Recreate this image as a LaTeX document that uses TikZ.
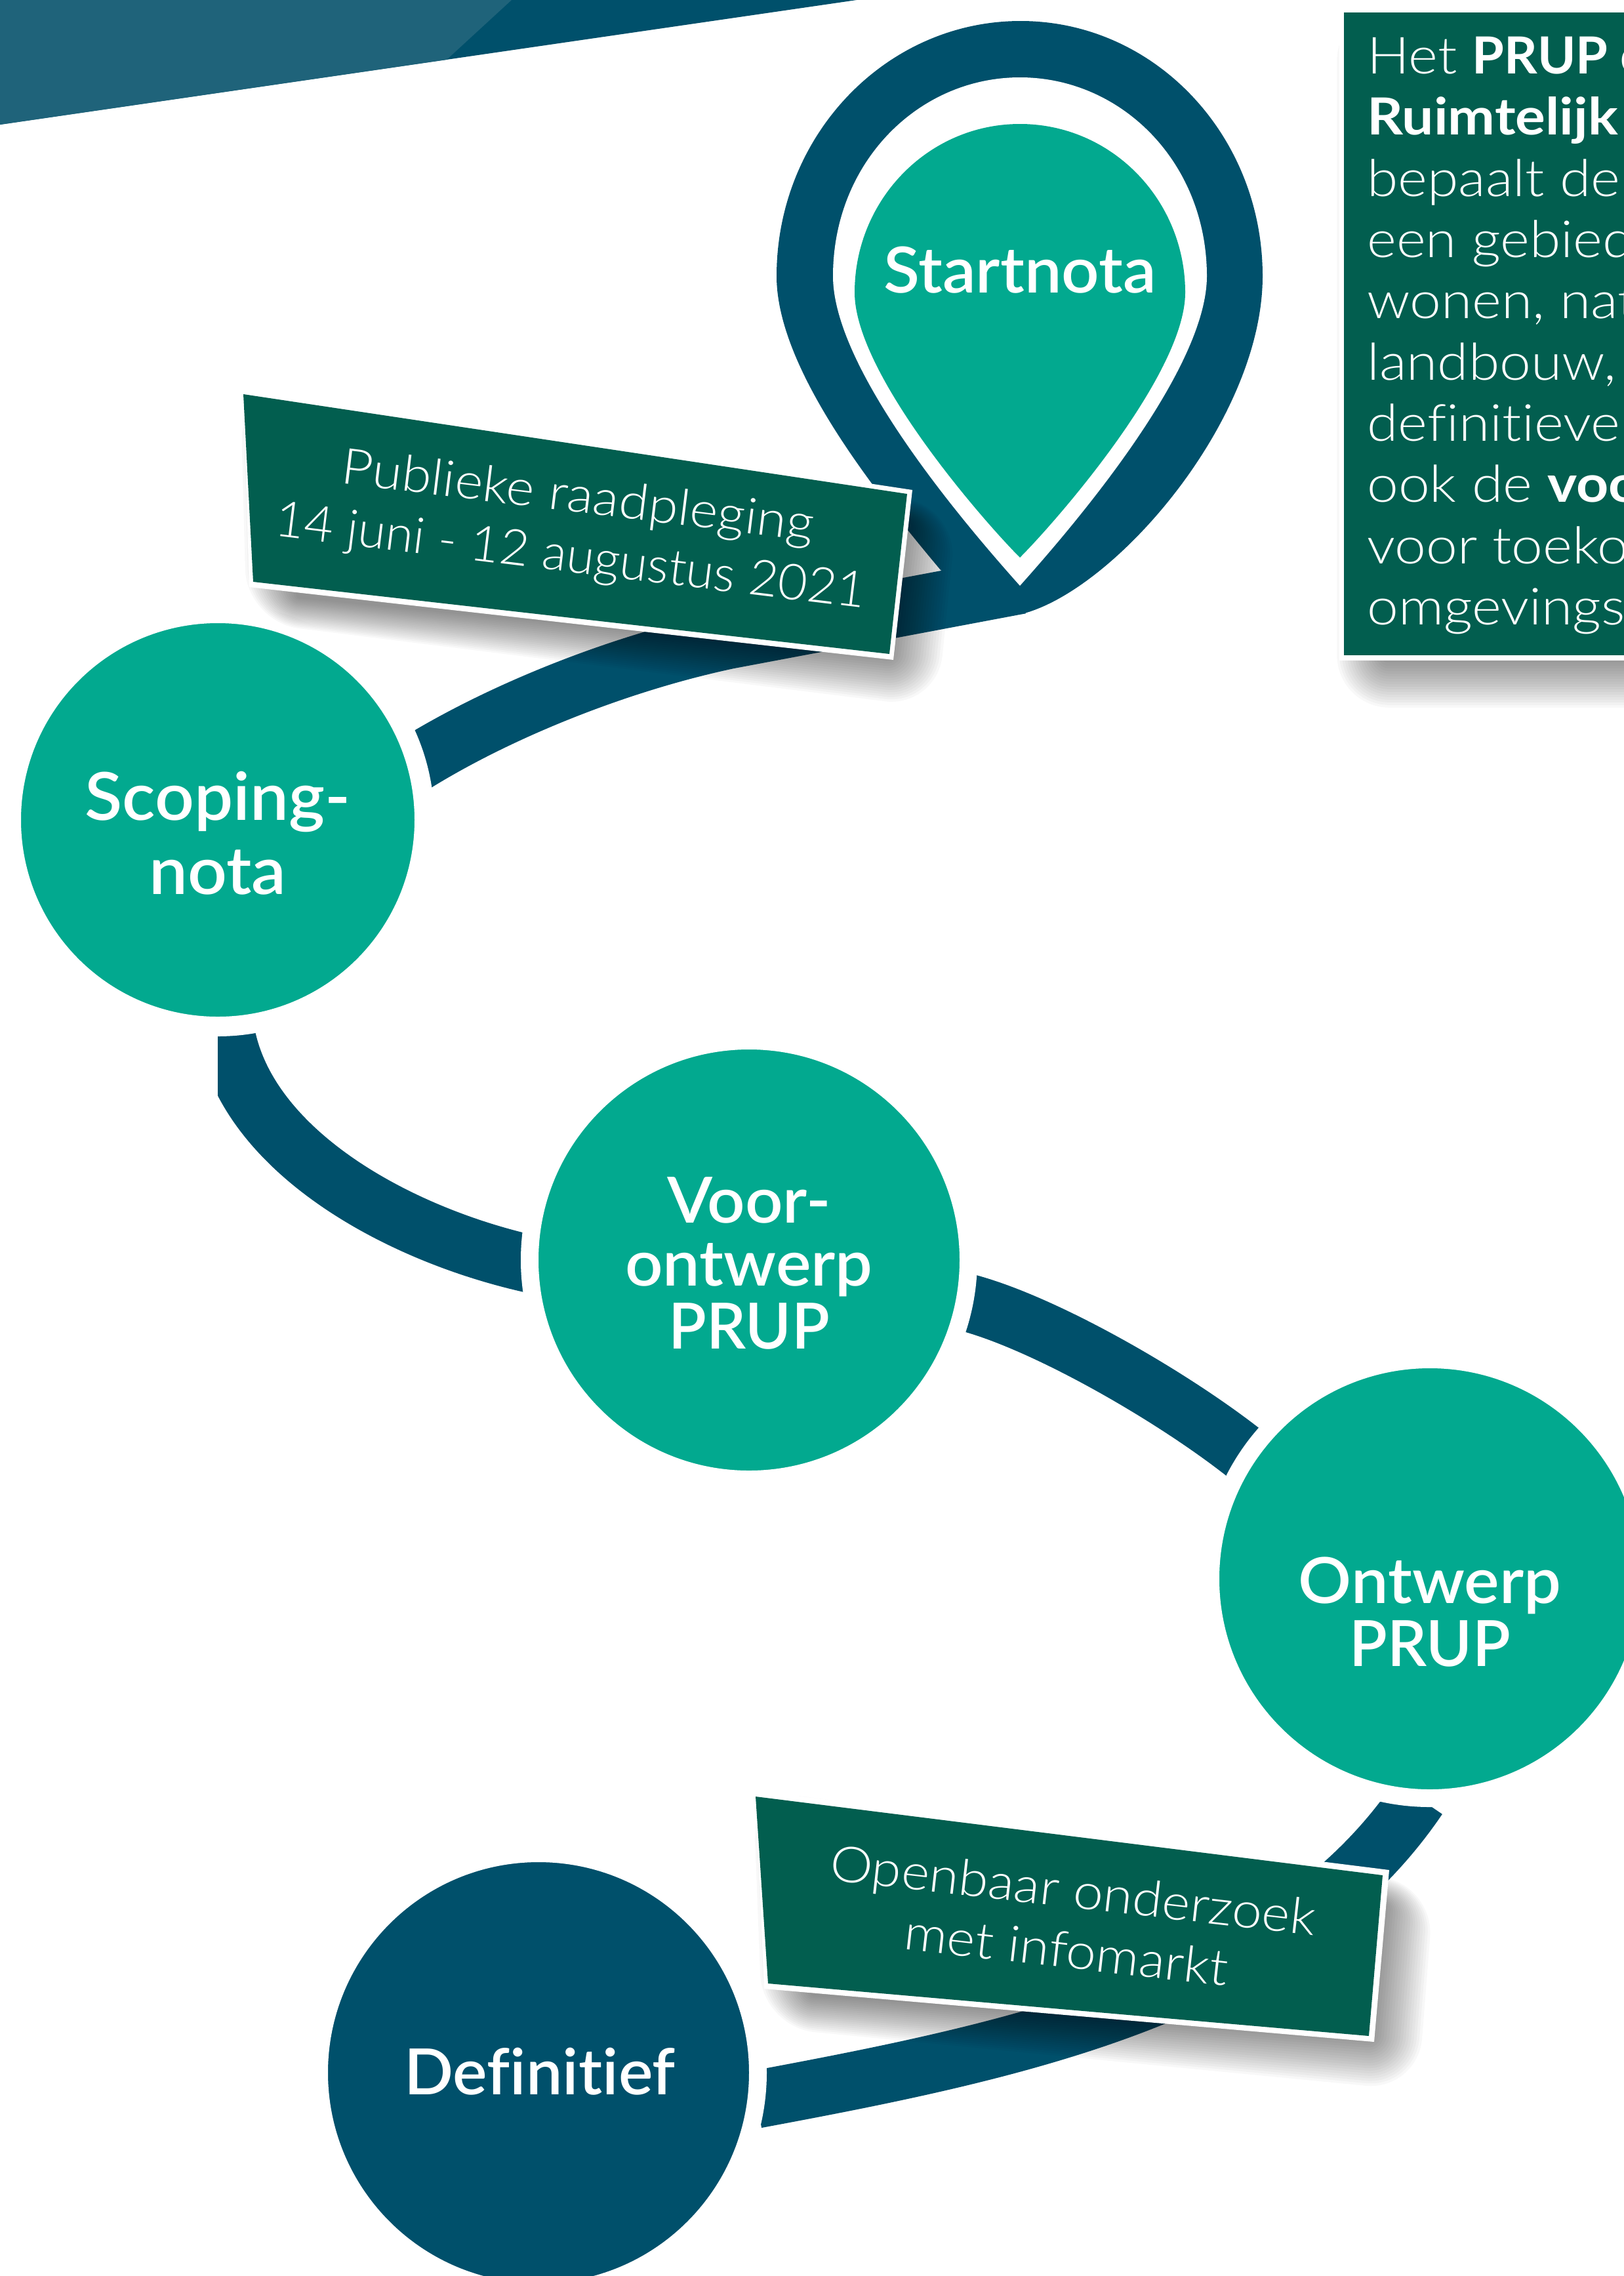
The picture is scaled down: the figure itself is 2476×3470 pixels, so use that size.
\documentclass[tikz,border=0pt]{standalone}
\usepackage{fontspec}
\setmainfont{Lato}
\newfontfamily\tagface[FakeStretch=1.08,Ligatures=CommonOff]{Lato Light}
\newfontfamily\panelface[FakeStretch=1.1,Ligatures=CommonOff,BoldFont={Lato Bold}]{Lato Light}
\newfontfamily\semiface[FakeStretch=1.04,Ligatures=CommonOff]{Lato Semibold}
\definecolor{deepblue}{HTML}{00506B}
\definecolor{bannerlight}{HTML}{1F637A}
\definecolor{teal}{HTML}{02A98F}
\definecolor{labelgreen}{HTML}{025E4F}
\newcommand{\softshadow}[5]{%
  \foreach \rr in {-40,-36,...,36}{%
    \pgfmathsetmacro\sx{1+\rr/#3}%
    \pgfmathsetmacro\sy{1+\rr/#4}%
    \pgfmathsetmacro\rc{max(\rr+44,1)}%
    \begin{scope}[shift={(#1+32,#2+36)},xscale=\sx,yscale=\sy,shift={(-#1,-#2)}]
      \fill[black,opacity=.026,rounded corners=\rc pt] #5;
    \end{scope}}}
\tikzset{
  ribbon/.style={draw=deepblue,line width=88pt},
  bubble/.style={circle,fill=teal,draw=white,line width=27pt,inner sep=0pt,outer sep=0pt,minimum size=669pt},
  smallbubble/.style={bubble,line width=30pt,minimum size=630pt},
  bubbletext/.style={text=white,align=center,inner sep=0pt,font=\semiface\fontsize{97}{96}\selectfont},
  tagtext/.style={text=white,align=center,inner sep=0pt,rotate=-7,font=\tagface\fontsize{76}{92}\selectfont},
  paneltext/.style={text=white,align=left,inner sep=0pt,font=\panelface\fontsize{78}{93.3}\selectfont}
}
\def\tagAouter{(371,593) -- (1391,747) -- (1362,1006) -- (380,895) -- cycle}
\def\tagAinner{(371,601) -- (1383,753) -- (1356,997) -- (386,887) -- cycle}
\def\tagBouter{(1152,2730) -- (2118,2851) -- (2095,3113) -- (1165,3032) -- cycle}
\def\tagBinner{(1152,2739) -- (2108,2859) -- (2087,3104) -- (1171,3024) -- cycle}
\def\panelouter{(2042,12) -- (2520,12) -- (2520,1007) -- (2042,1007) -- cycle}
\begin{document}
\begin{tikzpicture}[x=1pt,y=-1pt]
\useasboundingbox (0,0) rectangle (2476,3470);
\clip (0,0) rectangle (2476,3470);
% banner
\fill[deepblue] (0,0) -- (1306,0) -- (0,190) -- cycle;
\fill[bannerlight] (0,0) -- (780,0) -- (681,91) -- (0,190) -- cycle;
% stops
\node[smallbubble] (scoping) at (332,1250) {};
\node[bubble] (voor) at (1142,1921) {};
\node[bubble] (ontwerp) at (2180,2407) {};
\node[bubble,fill=deepblue] (definitief) at (821,3160) {};
\coordinate (pintip) at (1556,892);
% connectors
\draw[ribbon] (scoping.16.4) .. controls (770,1080) and (950,1010) .. (1110,976) -- (pintip);
\begin{scope}
  \clip (332,1400) rectangle (1200,2100);
  \draw[ribbon] (scoping.-88) .. controls (370,1750) and (600,1880) .. (voor.-179);
\end{scope}
\draw[ribbon] (voor.-11) .. controls (1590,2015) and (1790,2130) .. (ontwerp.146.7);
\draw[ribbon] (ontwerp.-93) .. controls (1960,3040) and (1560,3125) .. (definitief.-7);
% pin
\fill[deepblue] (1184,421) .. controls (1184,206) and (1351,32) .. (1556,32)
  .. controls (1760,32) and (1925,206) .. (1925,421)
  .. controls (1925,640) and (1700,900) .. (1558,936)
  -- (1434,869) .. controls (1330,745) and (1184,560) .. (1184,421) -- cycle;
\fill[white] (1270,421) .. controls (1270,248) and (1400,118) .. (1555,118)
  .. controls (1710,118) and (1840,248) .. (1840,421)
  .. controls (1840,570) and (1620,820) .. (1555,893)
  .. controls (1490,820) and (1270,570) .. (1270,421) -- cycle;
\fill[teal] (1303,446) .. controls (1303,305) and (1415,189) .. (1555,189)
  .. controls (1695,189) and (1807,305) .. (1807,446)
  .. controls (1807,570) and (1610,795) .. (1555,850)
  .. controls (1500,795) and (1303,570) .. (1303,446) -- cycle;
% bubbles again on top of the connectors
\node[smallbubble] at (scoping) {};
\node[bubble] at (voor) {};
\node[bubble] at (ontwerp) {};
\node[bubble,fill=deepblue] at (definitief) {};
% texts in stops
\node[bubbletext] (tstart) at (1555,412) {Startnota};
\node[bubbletext,font=\semiface\fontsize{101}{113}\selectfont] (tscoping) at (332,1270) {Scoping-\\nota};
\node[bubbletext] (tvoor) at (1142,1926) {Voor-\\ontwerp\\\scalebox{.94}[1]{PRUP}};
\node[bubbletext] (tontwerp) at (2180,2458) {Ontwerp\\\scalebox{.94}[1]{PRUP}};
\node[bubbletext] (tdefinitief) at (823,3158) {\scalebox{.98}[1]{Definitief}};
% tags
\softshadow{880}{800}{500}{200}{\tagAouter}
\fill[white] \tagAouter;
\fill[labelgreen] \tagAinner;
\node[tagtext] (tagA) at (875,806) {Publieke raadpleging\\\scalebox{.94}[1]{14 juni - 12 augustus 2021}};
\softshadow{1630}{2920}{480}{180}{\tagBouter}
\fill[white] \tagBouter;
\fill[labelgreen] \tagBinner;
\node[tagtext,rotate=.5] (tagB) at (1631,2927) {Openbaar onderzoek\\met infomarkt};
% panel
\softshadow{2280}{510}{240}{500}{\panelouter}
\fill[white] \panelouter;
\fill[labelgreen] (2049,19) rectangle (2520,999);
\node[paneltext,anchor=north west] (panel) at (2084,56) {Het \scalebox{.92}[1]{\textbf{PRUP o}}\\\textbf{Ruimtelijk}\\bepaalt de\\een gebied\\wonen, nat\\landbouw,\\definitieve\\ook de \textbf{voo}\\voor toeko\\omgevings};
\end{tikzpicture}
\end{document}
